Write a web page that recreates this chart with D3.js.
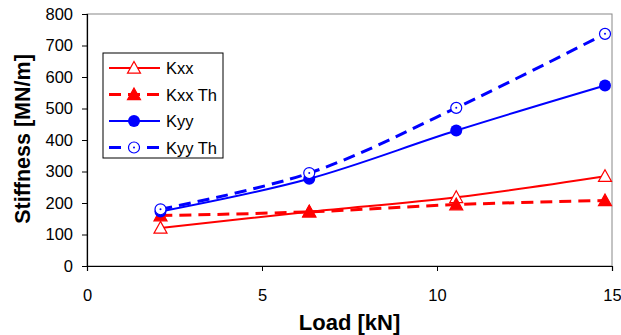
<!DOCTYPE html>
<html>
<head>
<meta charset="utf-8">
<script src="https://cdn.jsdelivr.net/npm/d3@7"></script>
<style>
  body { margin: 0; background: #fff; }
  text { font-family: "Liberation Sans", Arial, sans-serif; }
</style>
</head>
<body>
<div id="chart"></div>
<script>
var loads = [2.1, 6.35, 10.55, 14.8];
var kxx = [121, 172, 218, 285];
var kxxTh = [160, 172, 195, 208];
var kyy = [173, 277, 430, 573];
var kyyTh = [180, 295, 502, 737];
var xTicks = [0, 5, 10, 15];
var yTicks = [0, 100, 200, 300, 400, 500, 600, 700, 800];

var series = [
  { name: "Kxx", values: kxx, color: "#ff0000", dash: null, width: 2, marker: "triOpen" },
  { name: "Kxx Th", values: kxxTh, color: "#ff0000", dash: "12,7", width: 3, marker: "triFill" },
  { name: "Kyy", values: kyy, color: "#0000ff", dash: null, width: 2, marker: "dotFill" },
  { name: "Kyy Th", values: kyyTh, color: "#0000ff", dash: "12,7", width: 3, marker: "dotOpen" }
];

var width = 621, height = 335;
var margin = { left: 87, right: 9, top: 14, bottom: 69 };

var svg = d3.select("#chart").append("svg")
    .attr("width", width)
    .attr("height", height);

var x = d3.scaleLinear().domain([0, 15]).range([margin.left, width - margin.right]);
var y = d3.scaleLinear().domain([0, 800]).range([height - margin.bottom, margin.top]);

// plot frame (grey top/right like excel)
svg.append("rect")
    .attr("x", x(0)).attr("y", y(800))
    .attr("width", x(15) - x(0)).attr("height", y(0) - y(800))
    .attr("fill", "none").attr("stroke", "#888").attr("stroke-width", 1);

var xAxis = svg.append("g")
    .attr("transform", "translate(0," + y(0) + ")")
    .call(d3.axisBottom(x).tickValues(xTicks).tickSize(5).tickPadding(18));
var yAxis = svg.append("g")
    .attr("transform", "translate(" + x(0) + ",0)")
    .call(d3.axisLeft(y).tickValues(yTicks).tickSize(5).tickPadding(9));

[xAxis, yAxis].forEach(function(a) {
  a.select(".domain").attr("stroke", "#000").attr("stroke-width", 1.2);
  a.selectAll(".tick line").attr("stroke", "#000");
  a.selectAll(".tick text")
      .attr("fill", "#000")
      .style("font-size", "16.5px")
      .style("font-family", "Liberation Sans, Arial, sans-serif");
});

svg.append("text")
    .attr("x", (x(0) + x(15)) / 2)
    .attr("y", 330)
    .attr("text-anchor", "middle")
    .style("font-size", "22px")
    .style("font-weight", "bold")
    .text("Load [kN]");

svg.append("text")
    .attr("transform", "translate(30," + (y(400) - 1) + ") rotate(-90)")
    .attr("text-anchor", "middle")
    .style("font-size", "21.5px")
    .style("font-weight", "bold")
    .text("Stiffness [MN/m]");

var line = d3.line()
    .curve(d3.curveCatmullRom.alpha(0.5))
    .x(function(d, i) { return x(loads[i]); })
    .y(function(d) { return y(d); });

function drawMarker(g, type, color, cx, cy) {
  if (type === "triOpen" || type === "triFill") {
    var s = 6.5;
    g.append("path")
        .attr("d", "M" + cx + "," + (cy - s) + "L" + (cx + s) + "," + (cy + s * 0.8) + "L" + (cx - s) + "," + (cy + s * 0.8) + "Z")
        .attr("fill", type === "triFill" ? color : "#fff")
        .attr("stroke", color).attr("stroke-width", 1.2);
  } else if (type === "dotFill") {
    g.append("circle").attr("cx", cx).attr("cy", cy).attr("r", 6)
        .attr("fill", color);
  } else {
    g.append("circle").attr("cx", cx).attr("cy", cy).attr("r", 5.5)
        .attr("fill", "#fff").attr("stroke", color).attr("stroke-width", 1.2);
    g.append("circle").attr("cx", cx).attr("cy", cy).attr("r", 1)
        .attr("fill", color);
  }
}

series.forEach(function(s) {
  svg.append("path")
      .datum(s.values)
      .attr("d", line)
      .attr("fill", "none")
      .attr("stroke", s.color)
      .attr("stroke-width", s.width)
      .attr("stroke-dasharray", s.dash);
});
series.forEach(function(s) {
  var g = svg.append("g");
  s.values.forEach(function(v, i) {
    drawMarker(g, s.marker, s.color, x(loads[i]), y(v));
  });
});

// legend
var lg = svg.append("g").attr("transform", "translate(103,53)");
lg.append("rect")
    .attr("width", 120).attr("height", 105)
    .attr("fill", "#fff").attr("stroke", "#000").attr("stroke-width", 1);
series.forEach(function(s, i) {
  var ly = 15 + i * 26.5;
  lg.append("line")
      .attr("x1", 6).attr("x2", 57).attr("y1", ly).attr("y2", ly)
      .attr("stroke", s.color).attr("stroke-width", s.width)
      .attr("stroke-dasharray", s.dash ? "12,7" : null);
  drawMarker(lg, s.marker, s.color, 31, ly);
  lg.append("text")
      .attr("x", 63).attr("y", ly + 6)
      .style("font-size", "16.5px")
      .text(s.name);
});
</script>
</body>
</html>
